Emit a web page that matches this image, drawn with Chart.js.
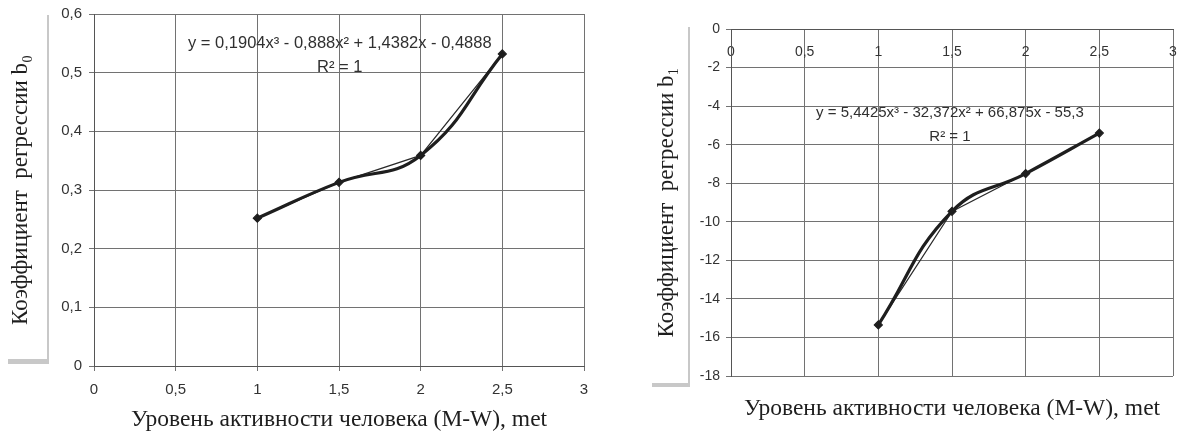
<!DOCTYPE html>
<html>
<head>
<meta charset="utf-8">
<script src="https://cdn.jsdelivr.net/npm/chart.js@4.4.1/dist/chart.umd.min.js"></script>
<style>
  html, body { margin: 0; padding: 0; background: #ffffff; }
  #wrap { position: relative; width: 1178px; height: 432px; overflow: hidden; background: #fff; }
  canvas { position: absolute; top: 0; }
  #c0 { left: 0; }
  #c1 { left: 600px; }
</style>
</head>
<body>
<div id="wrap">
  <canvas id="c0" width="600" height="432"></canvas>
  <canvas id="c1" width="578" height="432"></canvas>
</div>
<script>
// ---------- data ----------
const activityLevels = [1, 1.5, 2, 2.5];          // M-W, met
const b0Values = [0.252, 0.313, 0.359, 0.532];     // regression coefficient b0
const b1Values = [-15.35, -9.46, -7.50, -5.40];    // regression coefficient b1

const xTitle = 'Уровень активности человека (M-W), met';
const b0Title = 'Коэффициент  регрессии b₀';
const b1Title = 'Коэффициент  регрессии b₁';
const b0Equation = 'y = 0,1904x³ - 0,888x² + 1,4382x - 0,4888';
const b1Equation = 'y = 5,4425x³ - 32,372x² + 66,875x - 55,3';
const rSquared = 'R² = 1';

const xMin = 0, xMax = 3, xStep = 0.5;
const b0Min = 0, b0Max = 0.6, b0Step = 0.1;
const b1Min = -18, b1Max = 0, b1Step = 2;

// ---------- helpers ----------
const comma = v => String(+(+v).toFixed(2)).replace('.', ',');
const pts = vals => activityLevels.map((x, i) => ({ x: x, y: vals[i] }));
const GRID = '#727272';
const SANS = "'Liberation Sans', Arial, sans-serif";
const SERIF = "'Liberation Serif', 'Times New Roman', serif";
const noPadH = (h) => s => { if (h !== undefined) s.height = h; s.paddingLeft = 0; s.paddingRight = 0; };
const noPadV = (w) => s => { s.width = w; s.paddingTop = 0; s.paddingBottom = 0; };

function datasets(vals) {
  return [
    { // trend curve (thick, smooth)
      data: pts(vals), borderColor: '#1e1e1e', borderWidth: 3.2,
      tension: 0.45, pointRadius: 0, fill: false
    },
    { // measured points joined with thin straight line
      data: pts(vals), borderColor: '#2a2a2a', borderWidth: 1.2,
      tension: 0, pointStyle: 'rectRot', pointRadius: 4,
      pointBackgroundColor: '#1e1e1e', pointBorderColor: '#1e1e1e', fill: false
    }
  ];
}

function decoPlugin(cfg) {
  return {
    id: 'deco',
    afterDraw(chart) {
      const ctx = chart.ctx;
      const xs = chart.scales.x, ys = chart.scales.y;
      ctx.save();
      // scanned bracket decoration
      ctx.strokeStyle = '#c8c8c8';
      ctx.lineWidth = 2;
      ctx.beginPath();
      ctx.moveTo(cfg.br.x, cfg.br.top);
      ctx.lineTo(cfg.br.x, cfg.br.bottom);
      ctx.stroke();
      ctx.lineWidth = cfg.br.thick;
      ctx.beginPath();
      ctx.moveTo(cfg.br.left, cfg.br.bottom - cfg.br.thick / 2);
      ctx.lineTo(cfg.br.x + 1, cfg.br.bottom - cfg.br.thick / 2);
      ctx.stroke();
      // trend equation
      ctx.fillStyle = '#303030';
      ctx.textAlign = 'center';
      ctx.textBaseline = 'middle';
      ctx.font = cfg.eqFont;
      ctx.fillText(cfg.eq, xs.getPixelForValue(cfg.eqAt[0]), ys.getPixelForValue(cfg.eqAt[1]));
      ctx.fillText(rSquared, xs.getPixelForValue(cfg.rAt[0]), ys.getPixelForValue(cfg.rAt[1]));
      ctx.restore();
    }
  };
}

const common = {
  responsive: false,
  animation: false,
  devicePixelRatio: 1,
  plugins: { legend: { display: false }, tooltip: { enabled: false } }
};

// ---------- left chart: b0 ----------
new Chart(document.getElementById('c0'), {
  type: 'line',
  data: { datasets: datasets(b0Values) },
  options: Object.assign({}, common, {
    layout: { autoPadding: false, padding: { left: 0, top: 14, right: 16, bottom: 0 } },
    scales: {
      x: {
        type: 'linear', min: xMin, max: xMax,
        afterFit: noPadH(66),
        ticks: { stepSize: xStep, callback: comma, font: { family: SANS, size: 15 }, color: '#333', padding: 10, maxRotation: 0 },
        grid: { color: GRID, lineWidth: 1, tickLength: 5 },
        border: { color: '#555' },
        title: { display: true, text: xTitle, font: { family: SERIF, size: 23.5 }, color: '#1e1e1e', padding: { top: 0, bottom: -2 } }
      },
      y: {
        type: 'linear', min: b0Min, max: b0Max,
        afterFit: noPadV(94),
        ticks: { stepSize: b0Step, callback: comma, font: { family: SANS, size: 15 }, color: '#333', padding: 7 },
        grid: { color: GRID, lineWidth: 1, tickLength: 5 },
        border: { color: '#555' },
        title: { display: true, text: b0Title, font: { family: SERIF, size: 23 }, color: '#1e1e1e', padding: { top: 7, bottom: 0 } }
      }
    }
  }),
  plugins: [decoPlugin({
    br: { x: 48, top: 15, bottom: 364, left: 8, thick: 5 },
    eq: b0Equation, eqFont: '16.5px ' + SANS, eqAt: [1.505, 0.5506], rAt: [1.505, 0.5097]
  })]
});

// ---------- right chart: b1 ----------
new Chart(document.getElementById('c1'), {
  type: 'line',
  data: { datasets: datasets(b1Values) },
  options: Object.assign({}, common, {
    layout: { autoPadding: false, padding: { left: 0, top: 29, right: 5, bottom: 0 } },
    scales: {
      x: {
        type: 'linear', min: xMin, max: xMax, position: { y: 0 },
        afterFit: noPadH(),
        ticks: { stepSize: xStep, callback: comma, font: { family: SANS, size: 14 }, color: '#333', padding: 15, maxRotation: 0 },
        grid: { color: GRID, lineWidth: 1, drawTicks: false },
        border: { color: '#555' }
      },
      xt: {
        type: 'linear', min: xMin, max: xMax, position: 'bottom',
        afterFit: noPadH(56),
        ticks: { display: false },
        grid: { display: false, drawTicks: false },
        border: { display: false },
        title: { display: true, text: xTitle, font: { family: SERIF, size: 23.5 }, color: '#1e1e1e', padding: { top: 0, bottom: 9 } }
      },
      y: {
        type: 'linear', min: b1Min, max: b1Max,
        afterFit: noPadV(131),
        ticks: { stepSize: b1Step, callback: comma, font: { family: SANS, size: 14 }, color: '#333', padding: 6 },
        grid: { color: GRID, lineWidth: 1, tickLength: 5 },
        border: { color: '#555' },
        title: { display: true, text: b1Title, font: { family: SERIF, size: 23 }, color: '#1e1e1e', padding: { top: 53, bottom: 0 } }
      }
    }
  }),
  plugins: [decoPlugin({
    br: { x: 89, top: 27, bottom: 387, left: 52, thick: 4 },
    eq: b1Equation, eqFont: '15px ' + SANS, eqAt: [1.486, -4.35], rAt: [1.486, -5.60]
  })]
});
</script>
</body>
</html>
